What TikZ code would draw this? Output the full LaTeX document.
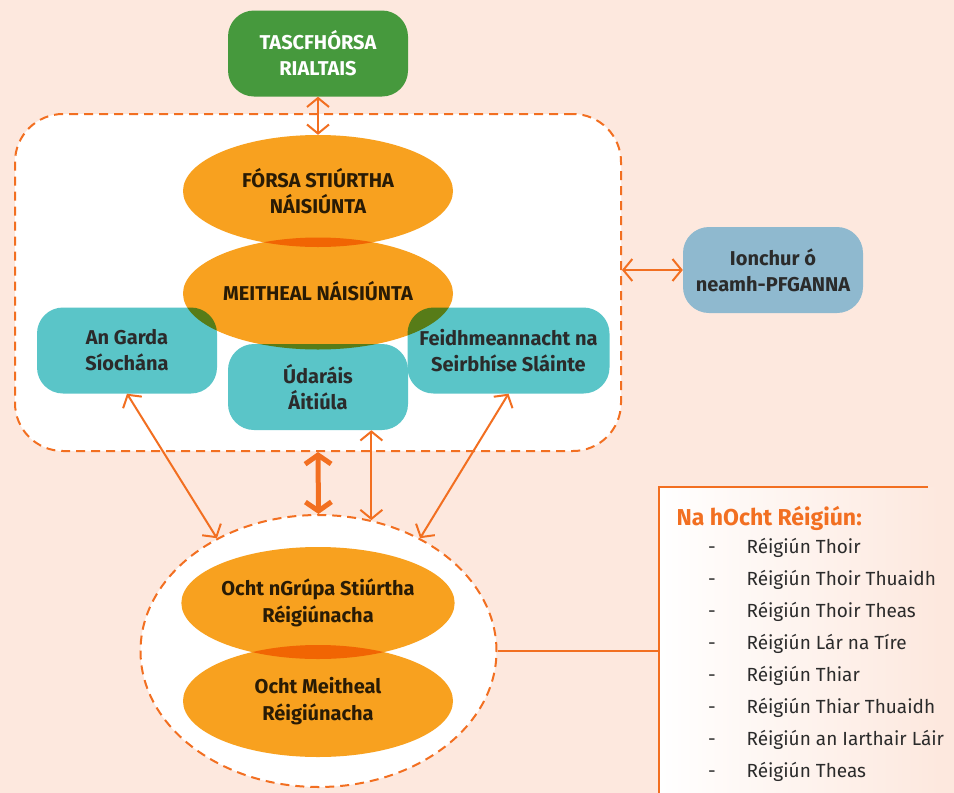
\documentclass[tikz,border=0pt]{standalone}
\usepackage{fontspec}
\setmainfont{Fira Sans}
\usetikzlibrary{shapes.geometric,arrows.meta}
\definecolor{peach}{HTML}{FDE8DE}
\definecolor{lineorange}{HTML}{F26F21}
\definecolor{bodyorange}{HTML}{F8A11F}
\definecolor{govgreen}{HTML}{46993D}
\definecolor{agencyteal}{HTML}{5AC5C8}
\definecolor{inputblue}{HTML}{8FB9CF}
\definecolor{textdark}{HTML}{2B2B2B}

\begin{document}
\begin{tikzpicture}[x=1pt, y=-1pt,
    every node/.style={font=\fontsize{20}{26}\selectfont\bfseries, text=textdark, align=center},
    group/.style={ellipse, fill=bodyorange, minimum width=270pt, minimum height=112pt, inner sep=0pt},
    agency/.style={rounded corners=26pt, fill=agencyteal, minimum width=180pt, minimum height=86pt},
    frame/.style={draw=lineorange, line width=2pt, dash pattern=on 9pt off 6pt, fill=white, inner sep=0pt},
    link/.style={draw=lineorange, line width=2pt, {Straight Barb[length=9pt,width=22pt]}-{Straight Barb[length=9pt,width=22pt]}},
    biglink/.style={draw=lineorange, line width=5pt, {Straight Barb[length=9pt,width=26pt]}-{Straight Barb[length=9pt,width=26pt]}},
    item/.style={anchor=base west, font=\fontsize{19}{22}\selectfont}]

  \useasboundingbox[fill=peach] (0,0) rectangle (954,793);

  \node[frame, rounded corners=48pt, minimum width=606pt, minimum height=337pt] (nat) at (318,282.5) {};
  \node[frame, ellipse, minimum width=356pt, minimum height=272pt] (reg) at (318.5,651) {};

  \node[agency, fill=govgreen, text=white] (gov) at (318,53.5) {TASCFHÓRSA\\RIALTAIS};
  \node[agency, fill=inputblue] (inp) at (773,270) {Ionchur ó\\neamh-PFGANNA};
  \node[agency] (gs) at (127,350.5) {An Garda\\Síochána};
  \node[agency] (ua) at (318,387) {Údaráis\\Áitiúla};
  \node[agency, minimum width=202pt] (fs) at (508.5,350.5) {Feidhmeannacht na\\Seirbhíse Sláinte};

  \begin{scope}[blend mode=multiply]
    \node[group] (nsf) at (318,191) {FÓRSA STIÚRTHA\\NÁISIÚNTA};
    \node[group] (nwg) at (318,293.5) {\raisebox{6pt}{MEITHEAL NÁISIÚNTA}};
    \node[group, font=\fontsize{20}{27}\selectfont\bfseries] (rsg) at (318,603) {Ocht nGrúpa Stiúrtha\\Réigiúnacha};
    \node[group, font=\fontsize{20}{27}\selectfont\bfseries] (rwg) at (318,701) {Ocht Meitheal\\Réigiúnacha};
  \end{scope}

  \draw[link] (gov.south) -- (nsf.north);
  \draw[link] (inp.west -| nat.east) -- (inp.west);
  \draw[biglink] (nat.south) -- (reg.north);
  \draw[link] (reg.68 |- ua.south) -- (reg.68);
  \draw[link] (gs.south) -- (reg.132);
  \draw[link] (fs.south) -- (reg.48);

  \coordinate (lst) at (659,487);
  \shade[left color=white, right color=peach] (lst) rectangle (940,793);
  \draw[lineorange, line width=2pt] (928,487) -- (lst) -- (lst |- 0,793);
  \draw[lineorange, line width=2pt] (reg.east) -- (reg.east -| lst);

  \node[anchor=base west, text=lineorange, font=\fontsize{23}{26}\selectfont\bfseries] (lt) at (673,525) {Na hOcht Réigiún:};
  \foreach \name [count=\i] in {Réigiún Thoir, Réigiún Thoir Thuaidh, Réigiún Thoir Theas, Réigiún Lár na Tíre, Réigiún Thiar, Réigiún Thiar Thuaidh, Réigiún an Iarthair Láir, Réigiún Theas} {
    \node[anchor=base, font=\fontsize{19}{22}\selectfont] (d\i) at (712,521+32*\i) {-};
    \node[item] (r\i) at (743,521+32*\i) {\name};
  }
\end{tikzpicture}
\end{document}
